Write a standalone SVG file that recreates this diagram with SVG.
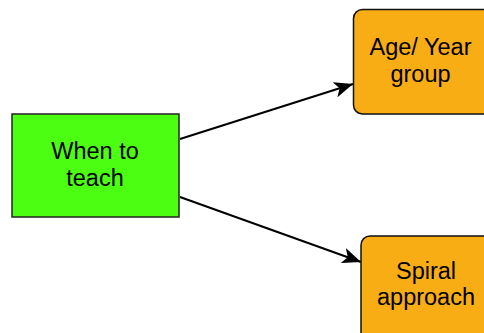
<svg xmlns="http://www.w3.org/2000/svg" width="484" height="333" viewBox="0 0 484 333">
  <style>
    .lbl { font-family: "Liberation Sans", Arial, sans-serif; font-size: 23.5px; fill: #000; text-anchor: middle; }
    .edge { stroke: #000; stroke-width: 2; fill: none; }
    .topic { fill: #4cff12; stroke: #222; stroke-width: 1.5; }
    .leaf { fill: #f9ad14; stroke: #111; stroke-width: 1.5; }
  </style>
  <defs>
    <marker id="arrow" markerUnits="userSpaceOnUse" markerWidth="21" markerHeight="16" viewBox="0 0 21 16" refX="19" refY="8" orient="auto">
      <path d="M0,0 L19,8 L0,16 L5,8 Z" fill="#000"/>
    </marker>
  </defs>
  <rect width="484" height="333" fill="#fff"/>

  <g id="connectors">
    <line class="edge" x1="180" y1="139" x2="353" y2="84" marker-end="url(#arrow)"/>
    <line class="edge" x1="180" y1="197" x2="361" y2="262" marker-end="url(#arrow)"/>
  </g>

  <g id="when-to-teach">
    <rect class="topic" x="12" y="114" width="167" height="103"/>
    <text class="lbl" x="95" y="159">When to</text>
    <text class="lbl" x="95" y="186">teach</text>
  </g>

  <g id="age-year-group">
    <rect class="leaf" x="353.5" y="9.5" width="140" height="104.5" rx="9"/>
    <text class="lbl" x="420.5" y="55">Age/ Year</text>
    <text class="lbl" x="420.5" y="82">group</text>
  </g>

  <g id="spiral-approach">
    <rect class="leaf" x="361" y="236" width="140" height="110" rx="9"/>
    <text class="lbl" x="426" y="279">Spiral</text>
    <text class="lbl" x="426" y="305">approach</text>
  </g>
</svg>
